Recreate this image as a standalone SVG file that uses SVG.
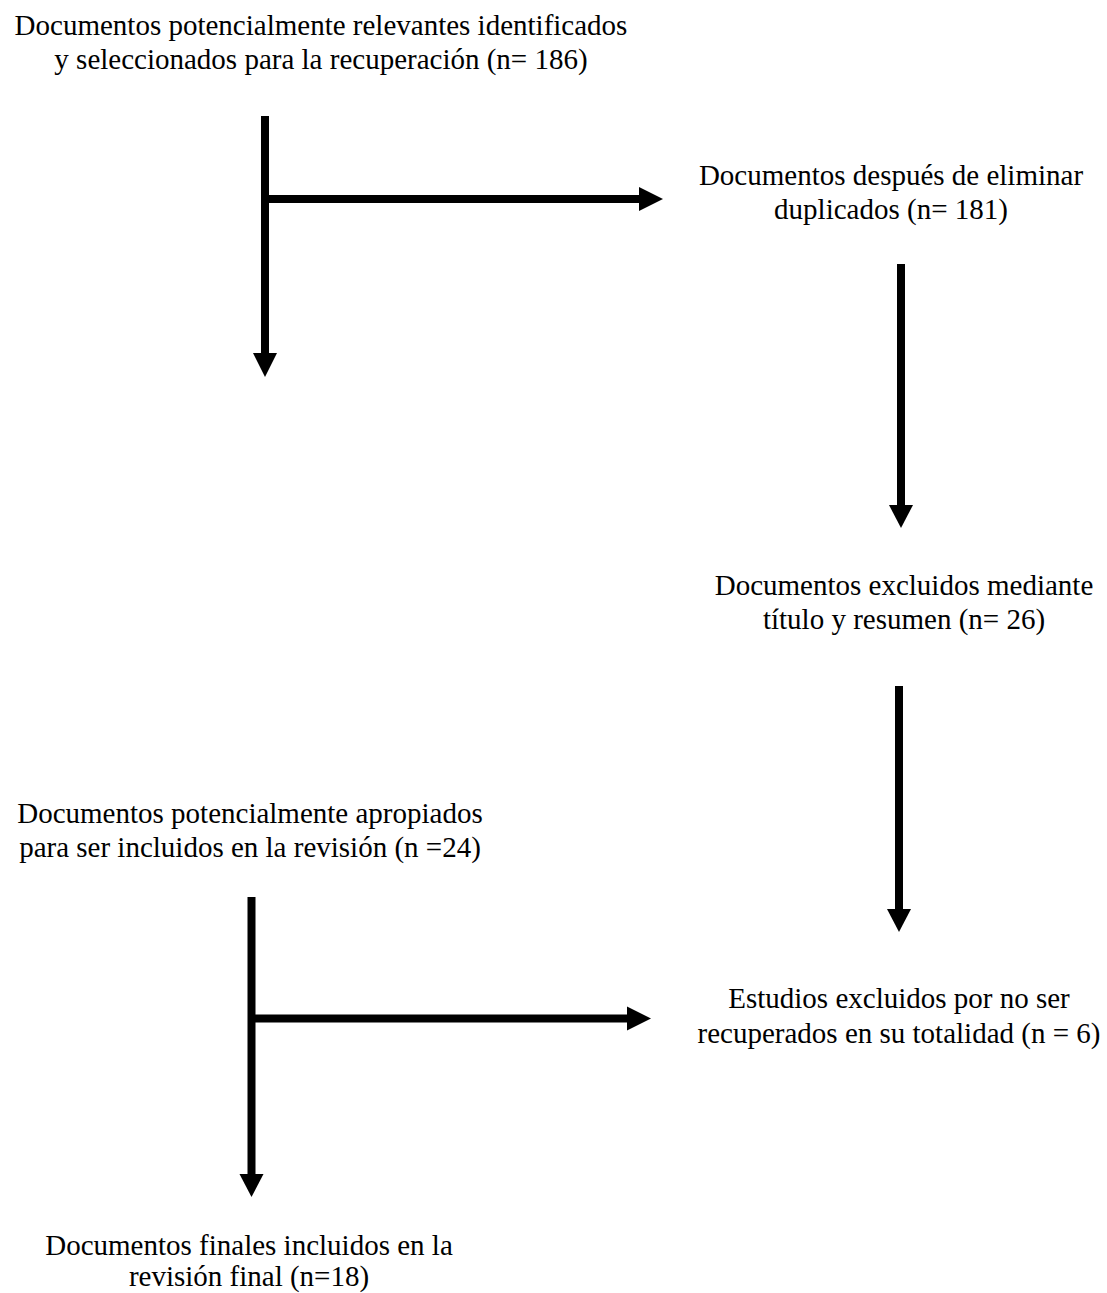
<svg xmlns="http://www.w3.org/2000/svg" width="1107" height="1293" viewBox="0 0 1107 1293">
<style>
text{font-family:"Liberation Serif","Times New Roman",serif;font-size:29px;fill:#000;text-anchor:middle}
.ln{stroke:#000;stroke-width:8;fill:none}
.hd{fill:#000;stroke:none}
</style>
<rect width="1107" height="1293" fill="#fff"/>
<g id="n1"><text x="321" y="35">Documentos potencialmente relevantes identificados</text><text x="321" y="69">y seleccionados para la recuperación (n= 186)</text></g>
<g id="n2"><text x="891" y="185">Documentos después de eliminar</text><text x="891" y="219">duplicados (n= 181)</text></g>
<g id="n3"><text x="904" y="595">Documentos excluidos mediante</text><text x="904" y="629">título y resumen (n= 26)</text></g>
<g id="n4"><text x="250" y="823">Documentos potencialmente apropiados</text><text x="250" y="857">para ser incluidos en la revisión (n =24)</text></g>
<g id="n5"><text x="899" y="1008">Estudios excluidos por no ser</text><text x="899" y="1043">recuperados en su totalidad (n = 6)</text></g>
<g id="n6"><text x="249" y="1255">Documentos finales incluidos en la</text><text x="249" y="1286">revisión final (n=18)</text></g>
<g id="connectors">
<line class="ln" x1="265" y1="116" x2="265" y2="354"/>
<polygon class="hd" points="253,353 277,353 265,377"/>
<line class="ln" x1="265" y1="199" x2="640" y2="199"/>
<polygon class="hd" points="639,187 639,211 663,199"/>
<line class="ln" x1="901" y1="264" x2="901" y2="506"/>
<polygon class="hd" points="889,505 913,505 901,528"/>
<line class="ln" x1="899" y1="686" x2="899" y2="910"/>
<polygon class="hd" points="887,909 911,909 899,932"/>
<line class="ln" x1="251.5" y1="897" x2="251.5" y2="1175"/>
<polygon class="hd" points="239.5,1174 263.5,1174 251.5,1197"/>
<line class="ln" x1="251.5" y1="1018.5" x2="628" y2="1018.5"/>
<polygon class="hd" points="627,1006.5 627,1030.5 651,1018.5"/>
</g>
</svg>
